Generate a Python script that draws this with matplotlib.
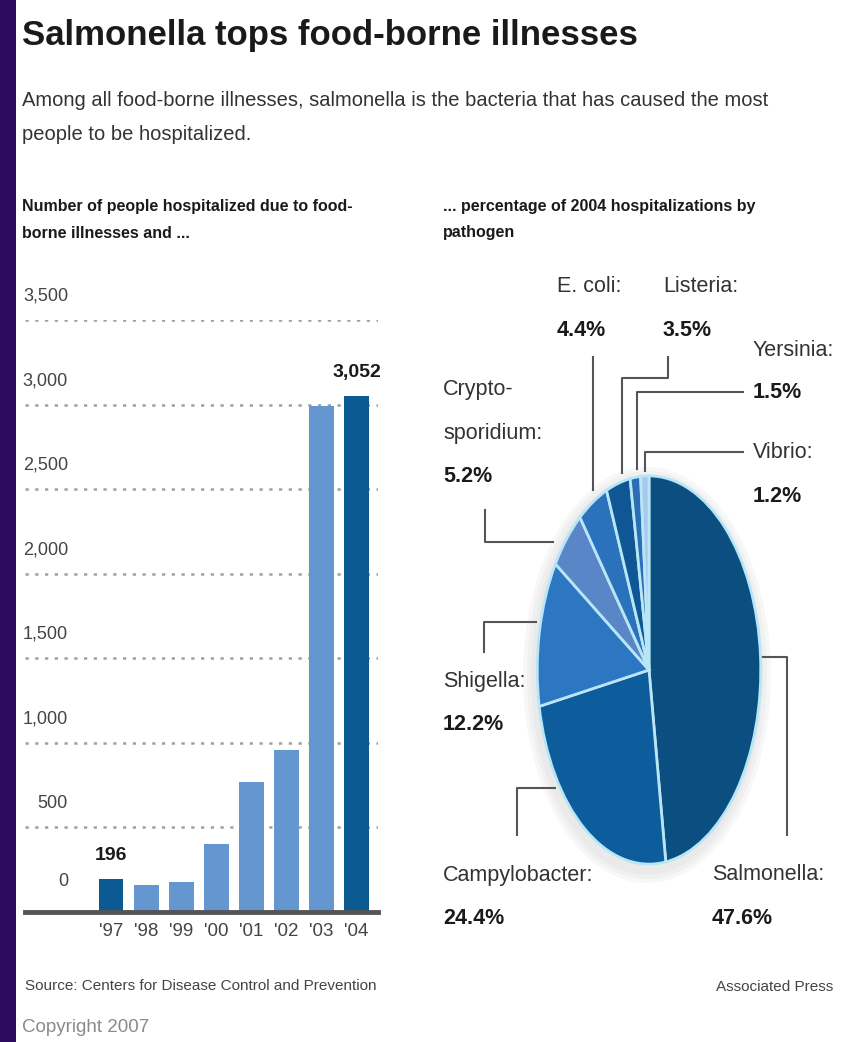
import matplotlib
matplotlib.use("Agg")
import matplotlib.pyplot as plt
from matplotlib.patches import Ellipse

W, H = 841, 1042

years = ["'97", "'98", "'99", "'00", "'01", "'02", "'03", "'04"]
hospitalized = [196, 160, 180, 400, 770, 960, 2990, 3052]
highlight = [True, False, False, False, False, False, False, True]
yticks = [0, 500, 1000, 1500, 2000, 2500, 3000, 3500]

pathogens = ["Salmonella", "Campylobacter", "Shigella", "Crypto-\nsporidium",
             "E. coli", "Listeria", "Yersinia", "Vibrio"]
shares = [47.6, 24.4, 12.2, 5.2, 4.4, 3.5, 1.5, 1.2]
pie_colors = ["#0b4f80", "#0d5c9c", "#2d77c2", "#5a86c8",
              "#2b72bd", "#0e5694", "#2b6eb5", "#a8c8ec"]

plt.rcParams["font.family"] = ["Liberation Sans", "DejaVu Sans"]

fig = plt.figure(figsize=(W / 100, H / 100), dpi=100)
fig.patch.set_facecolor("white")

# overlay in pixel coords for text and leader lines
ov = fig.add_axes([0, 0, 1, 1])
ov.set_xlim(0, W)
ov.set_ylim(H, 0)
ov.axis("off")
ov.add_patch(plt.Rectangle((0, 0), 16, H, color="#2b0b5e", lw=0))

dark = "#1a1a1a"
ov.text(22, 36, "Salmonella tops food-borne illnesses", fontsize=25,
        fontweight="bold", color=dark, va="center")
ov.text(22, 100, "Among all food-borne illnesses, salmonella is the bacteria that has caused the most",
        fontsize=14.5, color="#333333", va="center")
ov.text(22, 134, "people to be hospitalized.", fontsize=14.5, color="#333333", va="center")
ov.text(22, 207, "Number of people hospitalized due to food-", fontsize=11.5,
        fontweight="bold", color=dark, va="center")
ov.text(22, 233, "borne illnesses and ...", fontsize=11.5, fontweight="bold",
        color=dark, va="center")
ov.text(443, 207, "... percentage of 2004 hospitalizations by", fontsize=11.5,
        fontweight="bold", color=dark, va="center")
ov.text(443, 233, "pathogen", fontsize=11.5, fontweight="bold", color=dark, va="center")
ov.text(25, 986, "Source: Centers for Disease Control and Prevention", fontsize=11,
        color="#444444", va="center")
ov.text(833, 987, "Associated Press", fontsize=11, color="#444444", va="center", ha="right")
ov.text(22, 1028, "Copyright 2007", fontsize=13.5, color="#8a8a8a", va="center")

# bar chart
ax = fig.add_axes([25 / W, 1 - 912 / H, 353 / W, 592 / H])
ax.set_facecolor("none")
x = list(range(len(years)))
cols = ["#0b5a92" if h else "#6496cf" for h in highlight]
ax.bar(x, hospitalized, width=0.71, color=cols, zorder=2)
ax.set_xlim(-2.45, 7.61)
ax.set_ylim(0, 3500)
for v in yticks[1:]:
    ax.axhline(v, color="#a0a0a0", lw=1.8, ls=(0, (1.3, 2.6)), zorder=1)
ax.axhline(0, color="#555555", lw=3.5, zorder=3, clip_on=False)
for v in yticks:
    ax.annotate(f"{v:,}", xy=(0, v), xycoords=("axes fraction", "data"),
                xytext=(43 * 0.72, (31 if v == 0 else 24) * 0.72), textcoords="offset points",
                ha="right", va="center", fontsize=13, color="#444444", annotation_clip=False)
ax.set_xticks(x)
ax.set_xticklabels(years, fontsize=13.5, color="#444444")
ax.tick_params(axis="x", length=0, pad=8)
ax.set_yticks([])
for s in ax.spines.values():
    s.set_visible(False)
for i in (0, 7):
    ax.annotate(f"{hospitalized[i]:,}", xy=(i, hospitalized[i]), xytext=(0, 17),
                textcoords="offset points", ha="center", va="center", fontsize=14,
                fontweight="bold", color=dark, annotation_clip=False)

# soft shadow behind the pie
for k, a in enumerate([0.05, 0.05, 0.06]):
    ov.add_patch(Ellipse((647, 675), 232 + 8 * k, 400 + 8 * k, color="#808080",
                         alpha=a, lw=0))

# pie
px0, px1, py0, py1 = 535, 763, 472, 868
pa = fig.add_axes([px0 / W, 1 - py1 / H, (px1 - px0) / W, (py1 - py0) / H])
pa.pie(shares, colors=pie_colors, startangle=90, counterclock=False,
       wedgeprops=dict(edgecolor="#b8e6f7", linewidth=2))
pa.set_aspect("auto")
pa.set_xlim(-1.02, 1.02)
pa.set_ylim(-1.02, 1.02)

# labels + leader lines (pixel coords)
lab = dict(fontsize=15.5, color="#333333", va="center")
pct = dict(fontsize=15.5, color=dark, va="center", fontweight="bold")
line = dict(color="#555555", lw=1.5)

labels = {
    "E. coli": (557, 287), "Listeria": (663, 287), "Yersinia": (753, 350),
    "Vibrio": (753, 453), "Crypto-\nsporidium": (443, 390), "Shigella": (443, 682),
    "Campylobacter": (443, 875), "Salmonella": (712, 875),
}
for name, val in zip(pathogens, shares):
    lx, ly = labels[name]
    lines = name.split("\n")
    for k, t in enumerate(lines):
        ov.text(lx, ly + 43 * k, t + (":" if k == len(lines) - 1 else ""), **lab)
    ov.text(lx, ly + 43 * len(lines), f"{val}%", **pct)

ov.plot([593, 593], [357, 490], **line)
ov.plot([668, 668, 622, 622], [357, 378, 378, 473], **line)
ov.plot([743, 637, 637], [392, 392, 469], **line)
ov.plot([743, 645, 645], [452, 452, 471], **line)
ov.plot([485, 485, 553], [510, 542, 542], **line)
ov.plot([484, 484, 536], [652, 622, 622], **line)
ov.plot([517, 517, 555], [835, 788, 788], **line)
ov.plot([787, 787, 762], [835, 657, 657], **line)

fig.savefig("out.png", dpi=100, facecolor="white")
